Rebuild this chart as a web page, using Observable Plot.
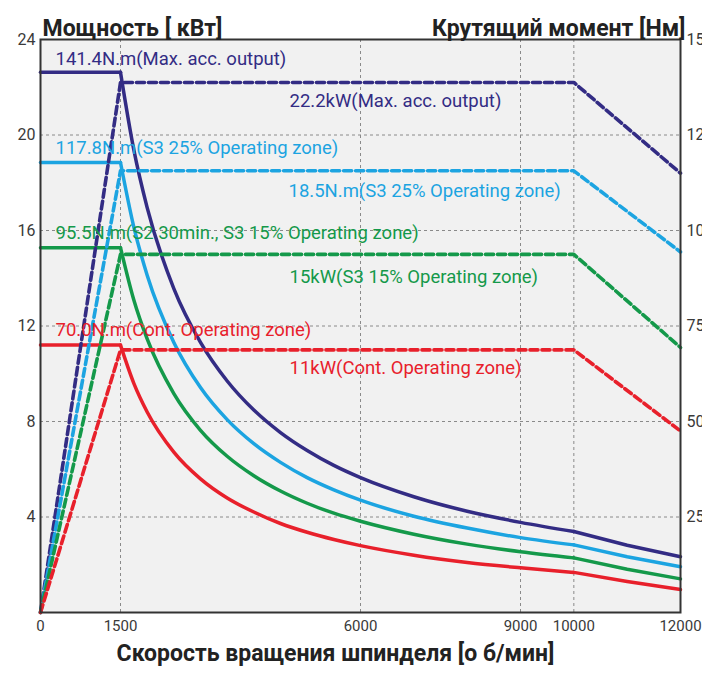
<!DOCTYPE html>
<html><head><meta charset="utf-8">
<script src="https://cdn.jsdelivr.net/npm/d3@7"></script>
<script src="https://cdn.jsdelivr.net/npm/@observablehq/plot@0.6"></script>
<style>body{margin:0;background:#fff;}</style>
</head><body><div id="chart"></div>
<script>
// Series (zones)
const seriesNames = ["Max. acc. output", "S3 25%", "S2 30min., S3 15%", "Cont."];
const seriesColors = ["#332c84", "#1ca4e1", "#14994a", "#e8202b"];

// Torque curves [N·m] vs speed [rpm] (solid lines, right axis)
const torqueRpm = [0, 1500, 1750, 2000, 2500, 3000, 3500, 4000, 4500, 5000, 5500, 6000, 7000, 8000, 9000, 10000, 11000, 12000];
const torqueMax  = [141.4, 141.4, 121.1, 106.0, 84.8, 70.7, 60.6, 53.0, 47.1, 42.4, 38.5, 35.3, 30.3, 26.5, 23.6, 21.2, 17.6, 14.6];
const torqueS325 = [117.8, 117.8, 100.9, 88.3, 70.7, 58.9, 50.5, 44.2, 39.3, 35.3, 32.1, 29.4, 25.2, 22.1, 19.6, 17.7, 14.6, 12.0];
const torqueS315 = [95.5, 95.5, 81.8, 71.6, 57.3, 47.7, 40.9, 35.8, 31.8, 28.6, 26.0, 23.9, 20.5, 17.9, 15.9, 14.3, 11.3, 8.8];
const torqueCont = [70.0, 70.0, 60.0, 52.5, 42.0, 35.0, 30.0, 26.3, 23.3, 21.0, 19.1, 17.5, 15.0, 13.1, 11.7, 10.5, 8.1, 6.0];

// Power curves [kW] vs speed [rpm] (dashed lines, left axis)
const powerRpm = [0, 1500, 10000, 12000];
const powerMax  = [0, 22.2, 22.2, 18.4];
const powerS325 = [0, 18.5, 18.5, 15.1];
const powerS315 = [0, 15.0, 15.0, 11.1];
const powerCont = [0, 11.0, 11.0, 7.6];

// Axis ticks
const xTicks = [0, 1500, 6000, 9000, 10000, 12000];
const kwTicks = [4, 8, 12, 16, 20, 24];
const nmTicks = [25, 50, 75, 100, 125, 150];
const xGrid = [1500, 6000, 9000, 10000];
const yGrid = [4, 8, 12, 16, 20];

// Annotations
const labelTexts = [
  "141.4N.m(Max. acc. output)",
  "22.2kW(Max. acc. output)",
  "117.8N.m(S3 25% Operating zone)",
  "18.5N.m(S3 25% Operating zone)",
  "95.5N.m(S2 30min., S3 15% Operating zone)",
  "15kW(S3 15% Operating zone)",
  "70.0N.m(Cont. Operating zone)",
  "11kW(Cont. Operating zone)"
];
const labelSeries = [0, 0, 1, 1, 2, 2, 3, 3];
const labelX = [281, 4669, 281, 4650, 281, 4669, 281, 4669];
const labelY = [23.2, 21.4, 19.46, 17.66, 15.9, 14.06, 11.84, 10.25];

const nmPerKw = 150 / 24; // right axis scale factor
const cornerRpm = 1500, fieldRpm = 10000;

const torqueSets = [torqueMax, torqueS325, torqueS315, torqueCont];
const powerSets = [powerMax, powerS325, powerS315, powerCont];
const torqueData = torqueSets.flatMap((arr, s) => arr.map((v, i) => ({s, rpm: torqueRpm[i], nm: v})));
const powerData = powerSets.flatMap((arr, s) => arr.map((v, i) => ({s, rpm: powerRpm[i], kw: v})));
const labels = labelTexts.map((t, i) => ({t, s: labelSeries[i], x: labelX[i], y: labelY[i]}));

const tFlat = torqueData.filter(d => d.rpm <= cornerRpm);
const tHyper = torqueData.filter(d => d.rpm >= cornerRpm && d.rpm <= fieldRpm);
const tTail = torqueData.filter(d => d.rpm >= fieldRpm);

const color = s => seriesColors[s];
const solid = {x: "rpm", y: d => d.nm / nmPerKw, z: "s", stroke: d => color(d.s), strokeWidth: 3.5};

const chart = Plot.plot({
  width: 702,
  height: 675,
  marginLeft: 40,
  marginRight: 22,
  marginTop: 39,
  marginBottom: 63,
  style: {fontFamily: "Roboto, 'Noto Sans', sans-serif", fontSize: "15px", color: "#3a3a3a", background: "#fff"},
  x: {domain: [0, 12000]},
  y: {domain: [0, 24]},
  marks: [
    Plot.frame({fill: "#f1f1f1", stroke: null}),
    Plot.gridY(yGrid, {stroke: "#8a8a8a", strokeOpacity: 1, strokeDasharray: "3,3"}),
    Plot.gridX(xGrid, {stroke: "#8a8a8a", strokeOpacity: 1, strokeDasharray: "3,3"}),
    Plot.axisY({ticks: kwTicks, tickSize: 0, tickPadding: 5, label: null, fontSize: 16}),
    Plot.axisY({anchor: "right", ticks: kwTicks, tickSize: 0, tickPadding: 6, label: null, fontSize: 16, tickFormat: d => String(Math.round(d * nmPerKw))}),
    Plot.axisX({ticks: xTicks, tickSize: 0, tickPadding: 8, label: null, fontSize: 15, tickFormat: d => String(d)}),
    Plot.line(tFlat, {...solid}),
    Plot.line(tHyper, {...solid, curve: "monotone-x"}),
    Plot.line(tTail, {...solid}),
    Plot.line(powerData, {x: "rpm", y: "kw", z: "s", stroke: d => color(d.s), strokeWidth: 3.6, strokeDasharray: "8,4"}),
    Plot.text(labels, {x: "x", y: "y", text: "t", fill: d => color(d.s), textAnchor: "start", fontSize: 18.5, ariaLabel: "curve-label"}),
    Plot.frame({stroke: "#333", strokeWidth: 2}),
    Plot.text(["Мощность [ кВт]"], {frameAnchor: "top-left", dx: 2, dy: -20, textAnchor: "start", fontWeight: "bold", fontSize: 23, fill: "#222", ariaLabel: "title-left"}),
    Plot.text(["Крутящий момент [Нм]"], {frameAnchor: "top-right", dx: 5, dy: -20, textAnchor: "end", fontWeight: "bold", fontSize: 23, fill: "#222", ariaLabel: "title-right"}),
    Plot.text(["Скорость вращения шпинделя [о б/мин]"], {frameAnchor: "bottom", dx: -25, dy: 48, fontWeight: "bold", fontSize: 23, fill: "#222", ariaLabel: "title-x"})
  ]
});

// Bold the leading numeric value in each annotation
chart.querySelectorAll('g[aria-label="curve-label"] text').forEach(el => {
  const txt = el.textContent;
  const m = txt.match(/^([\d.]+)(.*)$/);
  if (!m) return;
  el.textContent = "";
  const b = document.createElementNS("http://www.w3.org/2000/svg", "tspan");
  b.setAttribute("font-weight", "bold");
  b.textContent = m[1];
  const r = document.createElementNS("http://www.w3.org/2000/svg", "tspan");
  r.textContent = m[2];
  el.appendChild(b);
  el.appendChild(r);
});

// Fit the titles to the widths of the reference's condensed typeface
[["title-left", 163], ["title-right", 261], ["title-x", 455]].forEach(([k, w]) => {
  chart.querySelectorAll(`g[aria-label="${k}"] text`).forEach(el => {
    el.setAttribute("textLength", w);
    el.setAttribute("lengthAdjust", "spacingAndGlyphs");
  });
});

document.getElementById("chart").appendChild(chart);
</script>
</body></html>
